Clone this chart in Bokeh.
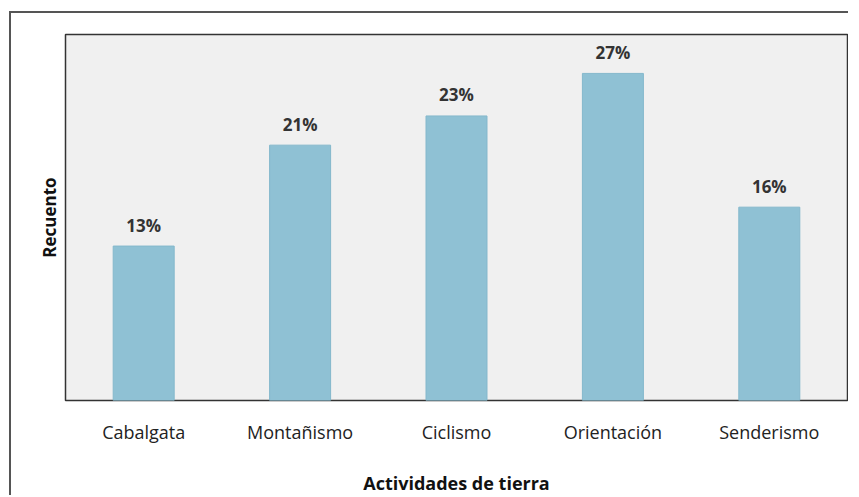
from bokeh.plotting import figure
from bokeh.models import ColumnDataSource, Range1d, FactorRange
from bokeh.embed import file_html
from bokeh.resources import INLINE
from bokeh.core.properties import value

categories = ["Cabalgata", "Montañismo", "Ciclismo", "Orientación", "Senderismo"]
# bar heights (percent of total)
bar_values = [12.7, 21.0, 23.4, 26.9, 15.9]
labels = ["13%", "21%", "23%", "27%", "16%"]

FONT = "Open Sans"

src = ColumnDataSource(dict(cat=categories, val=bar_values, lab=labels))

p = figure(
    x_range=FactorRange(*categories, range_padding=0),
    y_range=Range1d(0, 30.1),
    width=839, height=484,
    output_backend="svg", toolbar_location=None,
    min_border_left=54, min_border_right=3, min_border_top=21, min_border_bottom=97,
)
p.styles = {"margin-left": "9px", "margin-top": "11px",
            "border-left": "2px solid #555555", "border-top": "2px solid #555555"}

p.background_fill_color = "#f0f0f0"
p.border_fill_color = "white"
p.outline_line_color = "#333333"
p.outline_line_width = 1.5
p.grid.visible = False

p.vbar(x="cat", top="val", width=0.39, source=src,
       fill_color="#8fc1d4", line_color="#84b8cc", line_width=1)

p.text(x="cat", y="val", text="lab", source=src,
       text_align="center", text_baseline="alphabetic", y_offset=-21,
       text_font=value(FONT), text_font_size="17px", text_font_style="bold",
       text_color="#333333")

xa = p.xaxis[0]
xa.axis_line_color = None
xa.major_tick_line_color = None
xa.minor_tick_line_color = None
xa.major_tick_out = 0
xa.major_tick_in = 0
xa.major_label_standoff = 19
xa.major_label_text_font = FONT
xa.major_label_text_font_size = "18px"
xa.major_label_text_color = "#222222"
xa.axis_label = "Actividades de tierra"
xa.axis_label_text_font = FONT
xa.axis_label_text_font_size = "18px"
xa.axis_label_text_font_style = "bold"
xa.axis_label_text_color = "#111111"
xa.axis_label_standoff = 24

ya = p.yaxis[0]
ya.ticker = []
ya.axis_line_color = None
ya.major_tick_line_color = None
ya.minor_tick_line_color = None
ya.major_tick_out = 0
ya.major_tick_in = 0
ya.axis_label = "Recuento"
ya.axis_label_text_font = FONT
ya.axis_label_text_font_size = "17px"
ya.axis_label_text_font_style = "bold"
ya.axis_label_text_color = "#111111"
ya.axis_label_standoff = 5

open("out.html", "w").write(file_html(p, INLINE))
